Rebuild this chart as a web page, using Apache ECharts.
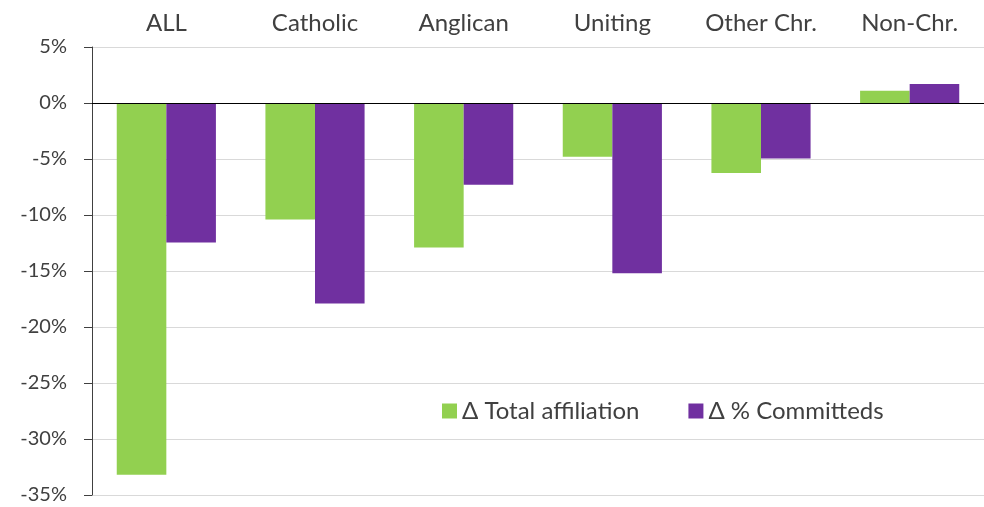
<!DOCTYPE html>
<html>
<head>
<meta charset="utf-8">
<script src="https://cdn.jsdelivr.net/npm/echarts@6/dist/echarts.min.js"></script>
<style>
html,body{margin:0;padding:0;background:#fff;}
#chart{width:984px;height:507px;}
</style>
</head>
<body>
<div id="chart"></div>
<script>
const categories = ['ALL', 'Catholic', 'Anglican', 'Uniting', 'Other Chr.', 'Non-Chr.'];
const totalAffiliation = [-33.2, -10.4, -12.9, -4.8, -6.25, 1.1];
const committeds = [-12.45, -17.9, -7.3, -15.2, -4.95, 1.7];
const seriesNames = ['\u0394 Total affiliation', '\u0394 % Committeds'];
const yTicks = { min: -35, max: 5, interval: 5 };

const FONT = 'Lato, "Noto Sans", sans-serif';
const chart = echarts.init(document.getElementById('chart'));
chart.setOption({
  animation: false,
  backgroundColor: '#ffffff',
  textStyle: { fontFamily: FONT },
  grid: { left: 92, right: 0, top: 47, bottom: 12, containLabel: false },
  legend: {
    left: 437, top: 394,
    itemWidth: 15, itemHeight: 15, itemGap: 49,
    icon: 'rect',
    textStyle: { fontFamily: FONT, fontSize: 24, color: '#404040' },
    data: seriesNames
  },
  xAxis: {
    type: 'category',
    position: 'top',
    data: categories,
    axisLine: { show: false, onZero: false },
    axisTick: { show: false },
    axisLabel: { fontFamily: FONT, fontSize: 24, color: '#404040', margin: 12 },
    splitLine: { show: false }
  },
  yAxis: {
    type: 'value',
    min: yTicks.min, max: yTicks.max, interval: yTicks.interval,
    axisLine: { show: true, lineStyle: { color: '#404040', width: 1 } },
    axisTick: { show: true, length: 8, lineStyle: { color: '#404040' } },
    axisLabel: { fontFamily: FONT, fontSize: 20, color: '#404040', margin: 25, formatter: '{value}%' },
    splitLine: { show: true, lineStyle: { color: '#d9d9d9', width: 1 } }
  },
  series: [
    {
      name: seriesNames[0], type: 'bar', data: totalAffiliation,
      barGap: '0%', barCategoryGap: '33.3%',
      itemStyle: { color: '#92D050' },
      markLine: {
        silent: true, symbol: 'none',
        label: { show: false },
        lineStyle: { color: '#000000', width: 1, type: 'solid' },
        data: [{ yAxis: 0 }]
      }
    },
    {
      name: seriesNames[1], type: 'bar', data: committeds,
      barGap: '0%', barCategoryGap: '33.3%',
      itemStyle: { color: '#7030A0' }
    }
  ]
});
</script>
</body>
</html>
